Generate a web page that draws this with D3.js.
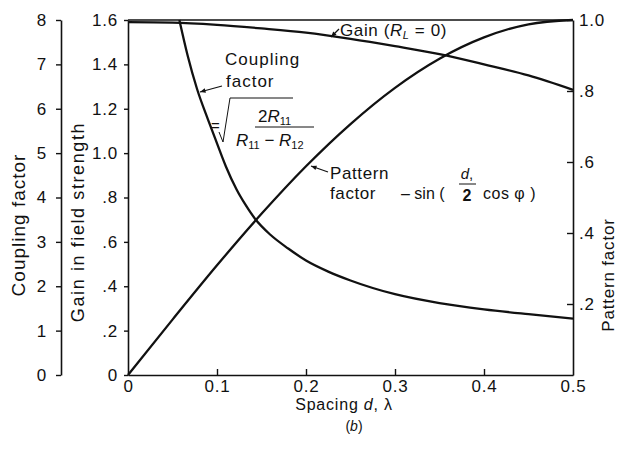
<!DOCTYPE html>
<html><head><meta charset="utf-8">
<script src="https://cdn.jsdelivr.net/npm/d3@7"></script>
<style>
body{margin:0;background:#fff}
text{font-family:"Liberation Sans",Arial,sans-serif;fill:#111}
</style></head>
<body><svg id="c" width="621" height="452"></svg>
<script>
// ---- data ----
const spacing = [0, 0.05, 0.1, 0.15, 0.2, 0.25, 0.3, 0.35, 0.4, 0.45, 0.5];
const gainValues = [1.59, 1.588, 1.578, 1.562, 1.543, 1.515, 1.482, 1.446, 1.40, 1.35, 1.285];
const patternValues = [0, 0.156, 0.309, 0.454, 0.588, 0.707, 0.809, 0.891, 0.951, 0.988, 1.0];
const couplingSpacing = [0.0577, 0.067, 0.0775, 0.09, 0.1, 0.11, 0.122, 0.1325, 0.1427, 0.16, 0.18, 0.2, 0.225, 0.25, 0.275, 0.3, 0.35, 0.4, 0.45, 0.5];
const couplingValues = [8.0, 7.2, 6.45, 5.75, 5.22, 4.7, 4.18, 3.82, 3.52, 3.16, 2.85, 2.58, 2.33, 2.13, 1.96, 1.82, 1.62, 1.48, 1.37, 1.27];
const xTicks = [0, 0.1, 0.2, 0.3, 0.4, 0.5];
const xTickLabels = ["0", "0.1", "0.2", "0.3", "0.4", "0.5"];
const couplingTicks = [0, 1, 2, 3, 4, 5, 6, 7, 8];
const gainTicks = [0, 0.2, 0.4, 0.6, 0.8, 1.0, 1.2, 1.4, 1.6];
const gainTickLabels = ["0", ".2", ".4", ".6", ".8", "1.0", "1.2", "1.4", "1.6"];
const patternTicks = [0.2, 0.4, 0.6, 0.8, 1.0];
const patternTickLabels = [".2", ".4", ".6", ".8", "1.0"];

// ---- layout ----
const L = 128, R = 573, T = 20, B = 375, CX = 61;
const svg = d3.select("#c");
const x = d3.scaleLinear([0, 0.5], [L, R]);
const yG = d3.scaleLinear([0, 1.6], [B, T]);
const yC = d3.scaleLinear([0, 8], [B, T]);
const yP = d3.scaleLinear([0, 1], [B, T]);
const FS = 17;

function styleAxis(g){
  g.selectAll("path.domain").attr("stroke","#111").attr("stroke-width",1.6);
  g.selectAll(".tick line").attr("stroke","#111").attr("stroke-width",1.4);
  g.selectAll("text").attr("font-size",FS).attr("letter-spacing",0.8)
    .attr("font-family","Liberation Sans, Arial, sans-serif").attr("fill","#111");
}

// coupling axis
svg.append("g").attr("transform",`translate(${CX},0)`)
  .call(d3.axisLeft(yC).tickValues(couplingTicks).tickFormat(d3.format("d")).tickSizeInner(5).tickSizeOuter(0).tickPadding(9))
  .call(styleAxis);
// gain axis
svg.append("g").attr("transform",`translate(${L},0)`)
  .call(d3.axisLeft(yG).tickValues(gainTicks).tickFormat((d,i)=>gainTickLabels[i]).tickSizeInner(4).tickSizeOuter(0).tickPadding(6))
  .call(styleAxis);
// pattern axis (right)
svg.append("g").attr("transform",`translate(${R},0)`)
  .call(d3.axisRight(yP).tickValues(patternTicks).tickFormat((d,i)=>patternTickLabels[i]).tickSizeInner(-6).tickSizeOuter(0).tickPadding(6))
  .call(styleAxis);
// x axis
const xa = svg.append("g").attr("transform",`translate(0,${B})`)
  .call(d3.axisBottom(x).tickValues(xTicks).tickFormat((d,i)=>xTickLabels[i]).tickSizeInner(-6).tickSizeOuter(0).tickPadding(5))
  .call(styleAxis);
xa.selectAll(".tick line").filter(d=>d===0||d===0.5).remove();
// top frame
svg.append("line").attr("x1",L).attr("x2",R).attr("y1",T).attr("y2",T).attr("stroke","#111").attr("stroke-width",1.6);

// curves
const line = d3.line().curve(d3.curveMonotoneX);
function drawCurve(xs, ys, yScale){
  svg.append("path").attr("d", line(xs.map((d,i)=>[x(d), yScale(ys[i])])))
    .attr("fill","none").attr("stroke","#111").attr("stroke-width",2.3);
}
drawCurve(spacing, gainValues, yG);
drawCurve(spacing, patternValues, yP);
drawCurve(couplingSpacing, couplingValues, yC);

// axis titles
svg.append("text").attr("transform","translate(25,225) rotate(-90)").attr("text-anchor","middle").attr("font-size",19).attr("letter-spacing",1).text("Coupling factor");
svg.append("text").attr("transform","translate(84,222) rotate(-90)").attr("text-anchor","middle").attr("font-size",18).attr("letter-spacing",1.6).text("Gain in field strength");
svg.append("text").attr("transform","translate(614,275) rotate(-90)").attr("text-anchor","middle").attr("font-size",17).attr("letter-spacing",0.8).text("Pattern factor");
const xt = svg.append("text").attr("x",344).attr("y",410).attr("text-anchor","middle").attr("font-size",16).attr("letter-spacing",0.8);
xt.append("tspan").text("Spacing ");
xt.append("tspan").attr("font-style","italic").text("d");
xt.append("tspan").text(", λ");
const bt = svg.append("text").attr("x",354).attr("y",431).attr("text-anchor","middle").attr("font-size",14);
bt.append("tspan").text("(");
bt.append("tspan").attr("font-style","italic").text("b");
bt.append("tspan").text(")");

// annotations
function arrow(x1,y1,x2,y2){
  svg.append("line").attr("x1",x1).attr("y1",y1).attr("x2",x2).attr("y2",y2).attr("stroke","#111").attr("stroke-width",1.2);
  const a = Math.atan2(y2-y1,x2-x1), s=6;
  const p = [[x2,y2],[x2-s*Math.cos(a-0.4),y2-s*Math.sin(a-0.4)],[x2-s*Math.cos(a+0.4),y2-s*Math.sin(a+0.4)]];
  svg.append("path").attr("d","M"+p.join("L")+"Z").attr("fill","#111");
}
// Gain label
const gt = svg.append("text").attr("x",340).attr("y",36).attr("font-size",17).attr("letter-spacing",0.6);
gt.append("tspan").text("Gain (");
gt.append("tspan").attr("font-style","italic").text("R");
gt.append("tspan").attr("font-size",11).attr("dy",3).attr("font-style","italic").text("L");
gt.append("tspan").attr("dy",-3).text(" = 0)");
arrow(339,29,331,37);
// Coupling label
svg.append("text").attr("x",225).attr("y",65).attr("font-size",17).attr("letter-spacing",1).text("Coupling");
svg.append("text").attr("x",226).attr("y",87).attr("font-size",17).attr("letter-spacing",1).text("factor");
arrow(222,86,200,92);
// formula
svg.append("text").attr("x",211).attr("y",131).attr("font-size",15).text("=");
svg.append("path").attr("d","M219,132 L223,142 L230,98 L293,98").attr("fill","none").attr("stroke","#111").attr("stroke-width",1);
const num = svg.append("text").attr("x",258).attr("y",122).attr("font-size",17);
num.append("tspan").text("2");
num.append("tspan").attr("font-style","italic").text("R");
num.append("tspan").attr("font-size",11).attr("dy",3).text("11");
svg.append("line").attr("x1",255).attr("x2",314).attr("y1",127).attr("y2",127).attr("stroke","#111").attr("stroke-width",1);
const den = svg.append("text").attr("x",236).attr("y",146).attr("font-size",17);
den.append("tspan").attr("font-style","italic").text("R");
den.append("tspan").attr("font-size",11).attr("dy",3).text("11");
den.append("tspan").attr("dy",-3).text(" − ");
den.append("tspan").attr("font-style","italic").text("R");
den.append("tspan").attr("font-size",11).attr("dy",3).text("12");
// Pattern label
svg.append("text").attr("x",330).attr("y",179).attr("font-size",17).attr("letter-spacing",0.6).text("Pattern");
svg.append("text").attr("x",330).attr("y",199).attr("font-size",17).attr("letter-spacing",0.6).text("factor");
arrow(328,172,311,166);
svg.append("text").attr("x",401).attr("y",199).attr("font-size",16).text("– sin (");
const dn = svg.append("text").attr("x",467).attr("y",179).attr("text-anchor","middle").attr("font-size",15).attr("font-style","italic").text("d");
dn.append("tspan").attr("font-style","normal").text(",");
svg.append("line").attr("x1",459).attr("x2",476).attr("y1",184).attr("y2",184).attr("stroke","#111").attr("stroke-width",1);
svg.append("text").attr("x",467).attr("y",201).attr("text-anchor","middle").attr("font-size",16).attr("font-weight","bold").text("2");
svg.append("text").attr("x",483).attr("y",199).attr("font-size",16).attr("letter-spacing",0.5).text("cos φ )");
</script></body></html>
